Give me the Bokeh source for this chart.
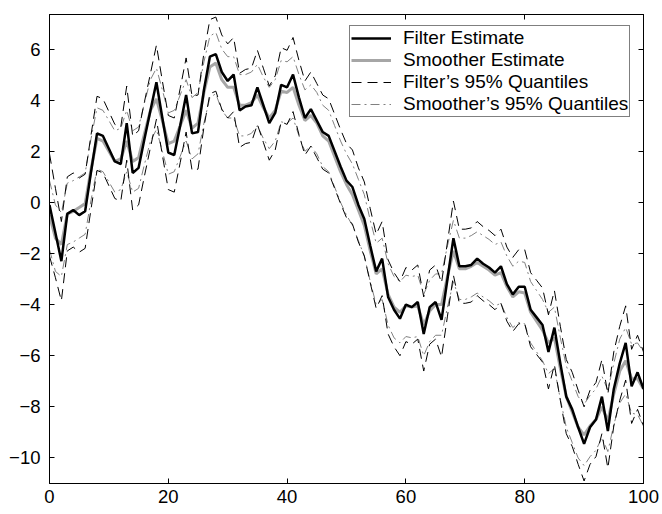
from bokeh.plotting import figure
from bokeh.models import Range1d, LinearAxis, FixedTicker, Legend, LegendItem
from bokeh.embed import file_html
from bokeh.resources import INLINE

t = list(range(101))

filter_est = [-0.1, -1.2, -2.3, -0.45, -0.3, -0.5, -0.35, 1.2, 2.7, 2.6,
              2.1, 1.6, 1.5, 3.1, 1.15, 1.35, 2.5, 3.6, 4.7, 3.3,
              1.95, 1.85, 3.0, 4.2, 2.7, 2.75, 4.4, 5.7, 5.8, 5.1,
              4.75, 5.0, 3.6, 3.75, 3.8, 4.5, 3.8, 3.1, 3.5, 4.6,
              4.5, 5.0, 4.1, 3.3, 3.65, 3.2, 2.75, 2.6, 2.0, 1.4,
              0.85, 0.6, -0.1, -0.65, -1.7, -2.7, -2.2, -3.7, -4.2, -4.55,
              -4.0, -4.1, -3.9, -5.15, -4.1, -3.9, -4.6, -3.0, -1.4, -2.5,
              -2.5, -2.45, -2.2, -2.4, -2.55, -2.75, -2.5, -3.2, -3.6, -3.3,
              -3.3, -4.2, -4.5, -4.8, -5.85, -4.9, -6.3, -7.6, -8.1, -8.8,
              -9.45, -8.8, -8.5, -7.6, -8.95, -7.3, -6.3, -5.5, -7.2, -6.65,
              -7.3]

smoother_est = [-0.5, -1.4, -1.65, -0.45, -0.35, -0.2, -0.05, 1.3, 2.5, 2.4,
                2.0, 1.6, 1.7, 2.4, 1.6, 1.75, 2.7, 3.6, 4.05, 3.2,
                2.3, 2.4, 3.0, 3.6, 2.9, 3.1, 4.3, 5.3, 5.45, 4.8,
                4.5, 4.5, 3.8, 3.8, 3.9, 4.2, 3.7, 3.3, 3.6, 4.35,
                4.3, 4.5, 3.8, 3.2, 3.4, 3.1, 2.6, 2.4, 1.8, 1.2,
                0.7, 0.3, -0.3, -0.9, -1.9, -2.8, -2.6, -3.6, -4.1, -4.3,
                -4.05, -4.1, -4.05, -4.8, -4.25, -4.0, -4.0, -2.9, -1.9, -2.6,
                -2.6, -2.5, -2.35, -2.5, -2.65, -2.85, -2.75, -3.3, -3.7, -3.5,
                -3.55, -4.3, -4.65, -5.0, -5.5, -5.3, -6.5, -7.6, -8.2, -8.8,
                -9.1, -8.75, -8.5, -8.0, -8.55, -7.5, -6.6, -6.2, -6.9, -6.9,
                -7.3]

filter_upper = [1.9, 0.55, -0.75, 1.0, 1.15, 0.95, 1.1, 2.65, 4.15, 4.05,
                3.55, 3.05, 2.95, 4.55, 2.6, 2.8, 3.95, 5.05, 6.15, 4.75,
                3.4, 3.3, 4.45, 5.65, 4.15, 4.2, 5.85, 7.15, 7.25, 6.55,
                6.2, 6.45, 5.05, 5.2, 5.25, 5.95, 5.25, 4.55, 4.95, 6.05,
                5.95, 6.45, 5.55, 4.75, 5.1, 4.65, 4.2, 4.05, 3.45, 2.85,
                2.3, 2.05, 1.35, 0.8, -0.25, -1.25, -0.75, -2.25, -2.75, -3.1,
                -2.55, -2.65, -2.45, -3.7, -2.65, -2.45, -3.15, -1.55, 0.05, -1.05,
                -1.05, -1.0, -0.75, -0.95, -1.1, -1.3, -1.05, -1.75, -2.15, -1.85,
                -1.85, -2.75, -3.05, -3.35, -4.4, -3.45, -4.85, -6.15, -6.65, -7.35,
                -8.0, -7.35, -7.05, -6.15, -7.5, -5.85, -4.85, -4.05, -5.75, -5.2,
                -5.85]

filter_lower = [-2.1, -2.95, -3.85, -1.9, -1.75, -1.95, -1.8, -0.25, 1.25, 1.15,
                0.65, 0.15, 0.05, 1.65, -0.3, -0.1, 1.05, 2.15, 3.25, 1.85,
                0.5, 0.4, 1.55, 2.75, 1.25, 1.3, 2.95, 4.25, 4.35, 3.65,
                3.3, 3.55, 2.15, 2.3, 2.35, 3.05, 2.35, 1.65, 2.05, 3.15,
                3.05, 3.55, 2.65, 1.85, 2.2, 1.75, 1.3, 1.15, 0.55, -0.05,
                -0.6, -0.85, -1.55, -2.1, -3.15, -4.15, -3.65, -5.15, -5.65, -6.0,
                -5.45, -5.55, -5.35, -6.6, -5.55, -5.35, -6.05, -4.45, -2.85, -3.95,
                -3.95, -3.9, -3.65, -3.85, -4.0, -4.2, -3.95, -4.65, -5.05, -4.75,
                -4.75, -5.65, -5.95, -6.25, -7.3, -6.35, -7.75, -9.05, -9.55, -10.25,
                -10.9, -10.25, -9.95, -9.05, -10.4, -8.75, -7.75, -6.95, -8.65, -8.1,
                -8.75]

smoother_upper = [0.85, -0.1, -0.4, 0.75, 0.85, 1.0, 1.15, 2.5, 3.7, 3.6,
                  3.2, 2.8, 2.9, 3.6, 2.8, 2.95, 3.9, 4.8, 5.25, 4.4,
                  3.5, 3.6, 4.2, 4.8, 4.1, 4.3, 5.5, 6.5, 6.65, 6.0,
                  5.7, 5.7, 5.0, 5.0, 5.1, 5.4, 4.9, 4.5, 4.8, 5.55,
                  5.5, 5.7, 5.0, 4.4, 4.6, 4.3, 3.8, 3.6, 3.0, 2.4,
                  1.9, 1.5, 0.9, 0.3, -0.7, -1.6, -1.4, -2.4, -2.9, -3.1,
                  -2.85, -2.9, -2.85, -3.6, -3.05, -2.8, -2.8, -1.7, -0.7, -1.4,
                  -1.4, -1.3, -1.15, -1.3, -1.45, -1.65, -1.55, -2.1, -2.5, -2.3,
                  -2.35, -3.1, -3.45, -3.8, -4.3, -4.1, -5.3, -6.4, -7.0, -7.6,
                  -7.9, -7.55, -7.3, -6.8, -7.35, -6.3, -5.35, -4.9, -5.55, -5.5,
                  -5.85]

smoother_lower = [-1.85, -2.7, -2.9, -1.65, -1.55, -1.4, -1.25, 0.1, 1.3, 1.2,
                  0.8, 0.4, 0.5, 1.2, 0.4, 0.55, 1.5, 2.4, 2.85, 2.0,
                  1.1, 1.2, 1.8, 2.4, 1.7, 1.9, 3.1, 4.1, 4.25, 3.6,
                  3.3, 3.3, 2.6, 2.6, 2.7, 3.0, 2.5, 2.1, 2.4, 3.15,
                  3.1, 3.3, 2.6, 2.0, 2.2, 1.9, 1.4, 1.2, 0.6, 0.0,
                  -0.5, -0.9, -1.5, -2.1, -3.1, -4.0, -3.8, -4.8, -5.3, -5.5,
                  -5.25, -5.3, -5.25, -6.0, -5.45, -5.2, -5.2, -4.1, -3.1, -3.8,
                  -3.8, -3.7, -3.55, -3.7, -3.85, -4.05, -3.95, -4.5, -4.9, -4.7,
                  -4.75, -5.5, -5.85, -6.2, -6.7, -6.5, -7.7, -8.8, -9.4, -10.0,
                  -10.3, -9.95, -9.7, -9.2, -9.75, -8.7, -7.85, -7.5, -8.25, -8.3,
                  -8.75]

x_ticks = [0, 20, 40, 60, 80, 100]
y_ticks = [-10, -8, -6, -4, -2, 0, 2, 4, 6]
legend_labels = ["Filter Estimate", "Smoother Estimate",
                 "Filter\u2019s 95% Quantiles", "Smoother\u2019s 95% Quantiles"]

FONT = "Liberation Sans"
FS = "18.5px"

p = figure(width=662, height=514, output_backend="svg", toolbar_location=None,
           x_range=Range1d(0, 100), y_range=Range1d(-11.0, 7.35),
           min_border_left=49, min_border_right=19, min_border_top=14,
           min_border_bottom=31)
p.background_fill_color = "white"
p.border_fill_color = "white"
p.outline_line_color = "black"
p.outline_line_width = 1
p.xgrid.visible = False
p.ygrid.visible = False

y_over = {v: str(v).replace("-", "\u2212") for v in y_ticks}

for ax in p.xaxis:
    ax.ticker = FixedTicker(ticks=x_ticks)
for ax in p.yaxis:
    ax.ticker = FixedTicker(ticks=y_ticks)
    ax.major_label_overrides = y_over

# tick-only mirror axes on top and right (no labels)
top_ax = LinearAxis(ticker=FixedTicker(ticks=x_ticks))
right_ax = LinearAxis(ticker=FixedTicker(ticks=y_ticks))
for ax in (top_ax, right_ax):
    ax.major_label_text_color = None
    ax.major_label_text_alpha = 0
    ax.major_label_text_font_size = "0px"
    ax.major_label_standoff = 0
p.add_layout(top_ax, "above")
p.add_layout(right_ax, "right")

for ax in [p.below[0], p.left[0], top_ax, right_ax]:
    ax.axis_line_color = "black"
    ax.axis_line_width = 1
    ax.major_tick_in = 5
    ax.major_tick_out = 0
    ax.major_tick_line_color = "black"
    ax.minor_tick_line_color = None

for ax in (p.below[0], p.left[0]):
    ax.major_label_text_font = FONT
    ax.major_label_text_font_size = FS
    ax.major_label_text_color = "black"

p.below[0].major_label_standoff = 6
p.left[0].major_label_standoff = 9

r_su = p.line(t, smoother_upper, line_color="#808080", line_width=1, line_dash="9 4 2 4")
r_sl = p.line(t, smoother_lower, line_color="#808080", line_width=1, line_dash="9 4 2 4")
r_fu = p.line(t, filter_upper, line_color="black", line_width=1, line_dash="10 6")
r_fl = p.line(t, filter_lower, line_color="black", line_width=1, line_dash="10 6")
r_s = p.line(t, smoother_est, line_color="#a6a6a6", line_width=3)
r_f = p.line(t, filter_est, line_color="black", line_width=2.5)

legend = Legend(items=[
    LegendItem(label=legend_labels[0], renderers=[r_f]),
    LegendItem(label=legend_labels[1], renderers=[r_s]),
    LegendItem(label=legend_labels[2], renderers=[r_fu]),
    LegendItem(label=legend_labels[3], renderers=[r_su]),
], location=(300, 366))
legend.label_text_font = FONT
legend.label_text_font_size = "19px"
legend.label_text_color = "black"
legend.border_line_color = "black"
legend.border_line_width = 1
legend.background_fill_color = "white"
legend.background_fill_alpha = 1
legend.padding = 1
legend.spacing = 0
legend.margin = 0
legend.label_height = 22
legend.glyph_height = 22
legend.glyph_width = 40
legend.label_standoff = 12
p.add_layout(legend, "center")

open("out.html", "w").write(file_html(p, INLINE))
